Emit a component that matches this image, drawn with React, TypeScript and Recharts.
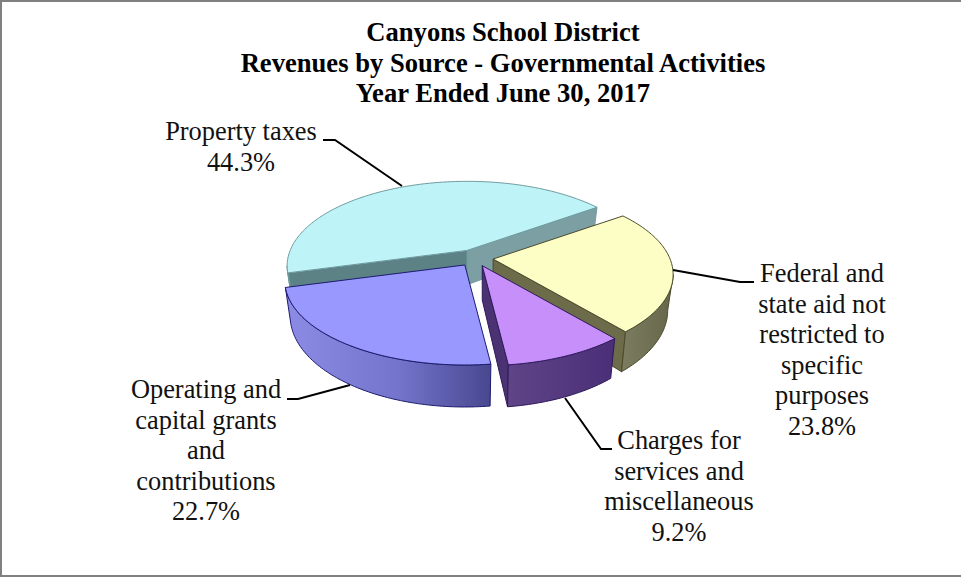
import { PieChart, Pie } from 'recharts';

const categories = [
  'Property taxes',
  'Federal and state aid not restricted to specific purposes',
  'Charges for services and miscellaneous',
  'Operating and capital grants and contributions',
];
const shares = [44.3, 23.8, 9.2, 22.7];
const labelRows = [
  ['Property taxes'],
  ['Federal and', 'state aid not', 'restricted to', 'specific', 'purposes'],
  ['Charges for', 'services and', 'miscellaneous'],
  ['Operating and', 'capital grants', 'and', 'contributions'],
];
const titleRows = [
  'Canyons School District',
  'Revenues by Source - Governmental Activities',
  'Year Ended June 30, 2017',
];

const tableData = categories.map((name, i) => ({ name, value: shares[i] }));

// label placement: centre x, first baseline, leader polyline
const labelLayout = [
  { x: 241, y: 140, leader: '323,140 335,140 402,186' },
  { x: 822, y: 282, leader: '673,270 740,282 754,282' },
  { x: 679, y: 449, leader: '565,398 601,449 612,449' },
  { x: 206, y: 398, leader: '287,399 298,399 350,385' },
];

const sliceStyles = [
  { top: '#BEF4F7', edge: '#6F9A9E', wall: '#5C8286', startWall: '#5C8286', endWall: '#7C9FA3' },
  { top: '#FDFDC6', edge: '#4A4A2C', wall: 'url(#wallYellow)', startWall: '#6C6C4A', endWall: '#6C6C4A' },
  { top: '#C78FFA', edge: '#2E1A5C', wall: 'url(#wallPurple)', startWall: '#4B3272', endWall: '#4B3272' },
  { top: '#9898FF', edge: '#1C1C6E', wall: 'url(#wallBlue)', startWall: '#5A5AA8', endWall: '#5A5AA8' },
];

// tilted disc with perspective, the near half is drawn larger than the far half
const RX = 177;
const RY = 81.7;
const PERSPECTIVE = 0.183;
const EXPLODE = 0.103;
const DEPTH = 34.3;
const BOTTOM_SX = 0.97;
const BOTTOM_SY = 1.077;
const RAD = Math.PI / 180;

function rim(theta: number) {
  const u = Math.sin(theta * RAD);
  const v = -Math.cos(theta * RAD);
  const w = 1 - PERSPECTIVE * v;
  return { x: (RX * u) / w, y: (RY * v) / w };
}

function lowered(p: { x: number; y: number }) {
  return { x: p.x * BOTTOM_SX, y: p.y * BOTTOM_SY + DEPTH };
}

function arcPoints(from: number, to: number) {
  const pts = [];
  const steps = Math.max(2, Math.ceil(to - from));
  for (let i = 0; i <= steps; i++) pts.push(rim(from + ((to - from) * i) / steps));
  return pts;
}

function toPath(pts: { x: number; y: number }[], ox: number, oy: number) {
  return (
    pts.map((p, i) => `${i ? 'L' : 'M'}${(p.x + ox).toFixed(2)},${(p.y + oy).toFixed(2)}`).join(' ') + ' Z'
  );
}

function Slice3D(props: any) {
  const { cx, cy, startAngle, endAngle, index } = props;
  const style = sliceStyles[index];
  let t0 = 90 - startAngle;
  let t1 = 90 - endAngle;
  // the pie runs clockwise past -360, bring the slice start back into one turn
  while (t0 >= 360) {
    t0 -= 360;
    t1 -= 360;
  }
  const mid = (t0 + t1) / 2;
  const ox = cx + EXPLODE * RX * Math.sin(mid * RAD);
  const oy = cy - EXPLODE * RY * Math.cos(mid * RAD);
  const apex = { x: 0, y: 0 };
  const topPts = [apex, ...arcPoints(t0, t1)];

  const radialWall = (theta: number) => {
    const p = rim(theta);
    return [apex, p, lowered(p), lowered(apex)];
  };

  // only the stretch of the rim that turns towards the viewer gets a side wall
  const frontFrom = Math.acos(-PERSPECTIVE) / RAD;
  const frontTo = 360 - frontFrom;
  const lo = Math.max(t0, frontFrom);
  const hi = Math.min(t1, frontTo);
  let outerWall: { x: number; y: number }[] | null = null;
  if (lo < hi) {
    const upper = arcPoints(lo, hi);
    outerWall = [...upper, ...upper.map((p) => lowered(p)).reverse()];
  }

  return (
    <g>
      {Math.sin(t0 * RAD) < 0 && (
        <path d={toPath(radialWall(t0), ox, oy)} fill={style.startWall} stroke={style.edge} strokeWidth={1} />
      )}
      {Math.sin(t1 * RAD) > 0 && (
        <path d={toPath(radialWall(t1), ox, oy)} fill={style.endWall} stroke={style.edge} strokeWidth={1} />
      )}
      {outerWall && <path d={toPath(outerWall, ox, oy)} fill={style.wall} stroke={style.edge} strokeWidth={1} />}
      <path d={toPath(topPts, ox, oy)} fill={style.top} stroke={style.edge} strokeWidth={1} strokeLinejoin="round" />
    </g>
  );
}

const LINE_GAP = 30.6;

function SliceLabel(props: any) {
  const { index, value } = props;
  const spot = labelLayout[index];
  const rows = [...labelRows[index], `${value}%`];
  return (
    <g>
      <polyline points={spot.leader} fill="none" stroke="#000" strokeWidth={2} />
      <text textAnchor="middle" fontFamily="'Liberation Serif'" fontSize={26.4} fill="#111">
        {rows.map((row, i) => (
          <tspan key={row} x={spot.x} y={spot.y + i * LINE_GAP}>
            {row}
          </tspan>
        ))}
      </text>
    </g>
  );
}

export default function App() {
  return (
    <div
      style={{
        position: 'absolute',
        left: 0,
        top: 0,
        width: 961,
        height: 577,
        boxSizing: 'border-box',
        background: '#fff',
        borderTop: '2px solid #808080',
        borderLeft: '2px solid #808080',
        borderBottom: '2px solid #808080',
      }}
    >
      <PieChart
        width={961}
        height={577}
        margin={{ top: 0, right: 0, bottom: 0, left: 0 }}
        style={{ position: 'absolute', left: -2, top: -2 }}
      >
        <defs>
          <linearGradient id="wallBlue" x1="0" y1="0" x2="1" y2="0">
            <stop offset="0%" stopColor="#8C8CE6" />
            <stop offset="55%" stopColor="#7474CC" />
            <stop offset="100%" stopColor="#484890" />
          </linearGradient>
          <linearGradient id="wallPurple" x1="0" y1="0" x2="1" y2="0">
            <stop offset="0%" stopColor="#5F4488" />
            <stop offset="100%" stopColor="#4A2F78" />
          </linearGradient>
          <linearGradient id="wallYellow" x1="0" y1="0" x2="1" y2="0">
            <stop offset="0%" stopColor="#7C7C60" />
            <stop offset="100%" stopColor="#66664A" />
          </linearGradient>
        </defs>
        <text textAnchor="middle" fontFamily="'Liberation Serif'" fontWeight="bold" fontSize={26.6} fill="#000">
          {titleRows.map((row, i) => (
            <tspan key={row} x={503} y={41 + i * 30.5}>
              {row}
            </tspan>
          ))}
        </text>
        <Pie
          data={tableData}
          dataKey="value"
          nameKey="name"
          cx={475}
          cy={258}
          outerRadius={177}
          startAngle={-164.8}
          endAngle={-524.8}
          stroke="none"
          shape={Slice3D}
          label={SliceLabel}
          labelLine={false}
          isAnimationActive={false}
        />
      </PieChart>
    </div>
  );
}
